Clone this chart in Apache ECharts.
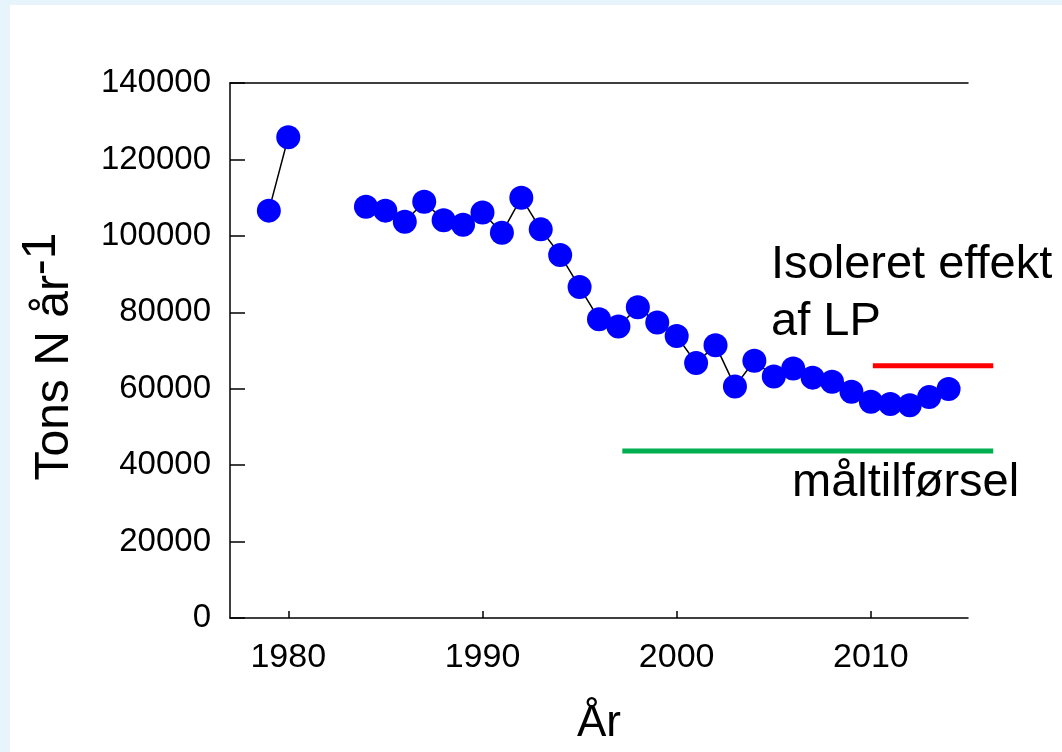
<!DOCTYPE html>
<html>
<head>
<meta charset="utf-8">
<script src="https://cdn.jsdelivr.net/npm/echarts@6/dist/echarts.min.js"></script>
<style>
  html, body { margin: 0; padding: 0; background: #e8f4fc; width: 1062px; height: 752px; overflow: hidden; }
  #chart { position: absolute; left: 10px; top: 5px; width: 1052px; height: 747px; background: #ffffff; }
</style>
</head>
<body>
<div id="chart"></div>
<script>
// ---- Data ----
const years = [1979, 1980, 1981, 1982, 1983, 1984, 1985, 1986, 1987, 1988, 1989, 1990, 1991, 1992, 1993, 1994, 1995, 1996, 1997, 1998, 1999, 2000, 2001, 2002, 2003, 2004, 2005, 2006, 2007, 2008, 2009, 2010, 2011, 2012, 2013, 2014];
const nitrogen = [106600, 125800, null, null, null, 107600, 106600, 103700, 108900, 104100, 102900, 106100, 100800, 110000, 101700, 95000, 86600, 78200, 76300, 81300, 77300, 73800, 66700, 71400, 60600, 67300, 63200, 65300, 62900, 61800, 59200, 56600, 56000, 55700, 57800, 59900];
const lpEffectX = [2010.1, 2016.3];
const lpEffectY = [66000, 66000];
const targetX = [1997.2, 2016.3];
const targetY = [43700, 43700];
const xTicks = [1980, 1990, 2000, 2010];
const yTicks = [0, 20000, 40000, 60000, 80000, 100000, 120000, 140000];
const labelLP = 'Isoleret effekt\naf LP';
const labelTarget = 'måltilførsel';

const FONT = '"Liberation Sans", Arial, Helvetica, sans-serif';

const mainData = years.map((y, i) => [y, nitrogen[i] === null ? null : nitrogen[i]]);
const refLines = [
  { xs: lpEffectX, ys: lpEffectY, color: '#ff0000' },
  { xs: targetX, ys: targetY, color: '#00b050' }
];

function refLineItem(params, api) {
  const ln = refLines[params.dataIndex];
  const p1 = api.coord([ln.xs[0], ln.ys[0]]);
  const p2 = api.coord([ln.xs[1], ln.ys[1]]);
  return {
    type: 'line',
    shape: { x1: p1[0], y1: p1[1], x2: p2[0], y2: p2[1] },
    style: { stroke: ln.color, lineWidth: 5 }
  };
}

const chart = echarts.init(document.getElementById('chart'));
chart.setOption({
  animation: false,
  backgroundColor: '#ffffff',
  grid: { left: 220, top: 78, right: 94, bottom: 134, containLabel: false },
  xAxis: [{
    type: 'value',
    min: 1977, max: 2015,
    splitLine: { show: false },
    axisLine: { show: true, onZero: false, lineStyle: { color: '#000', width: 1.5 } },
    axisTick: { show: true, inside: true, length: 7, customValues: xTicks, lineStyle: { color: '#000', width: 1.5 } },
    axisLabel: { customValues: xTicks, fontSize: 34, color: '#000', fontFamily: FONT, margin: 23, formatter: v => String(v) },
    name: 'År',
    nameLocation: 'middle',
    nameGap: 84,
    nameTextStyle: { fontSize: 44, color: '#000', fontFamily: FONT }
  }, {
    type: 'value',
    position: 'top',
    min: 1977, max: 2015,
    splitLine: { show: false },
    axisLine: { show: true, onZero: false, lineStyle: { color: '#000', width: 1.5 } },
    axisTick: { show: false },
    axisLabel: { show: false }
  }],
  yAxis: {
    type: 'value',
    min: 0, max: 140000, interval: 20000,
    splitLine: { show: false },
    axisLine: { show: true, lineStyle: { color: '#000', width: 1.5 } },
    axisTick: { show: true, inside: true, length: 15, lineStyle: { color: '#000', width: 1.5 } },
    axisLabel: { fontSize: 33, color: '#000', fontFamily: FONT, margin: 19,
      formatter: v => yTicks.includes(v) ? String(v) : '' },
    name: 'Tons N år{s|-1}',
    nameLocation: 'middle',
    nameRotate: 90,
    nameGap: 138,
    nameTextStyle: { fontSize: 48, color: '#000', fontFamily: FONT, padding: [0, 12, 0, 0],
      rich: { s: { fontSize: 48, color: '#000', fontFamily: FONT, padding: [0, 0, 26, 0] } } }
  },
  series: [{
    type: 'line',
    data: mainData,
    connectNulls: false,
    symbol: 'circle',
    symbolSize: 24,
    itemStyle: { color: '#0000ff' },
    lineStyle: { color: '#000', width: 1.5 },
    z: 5
  }, {
    type: 'custom',
    clip: false,
    data: refLines.map((_, i) => i),
    renderItem: refLineItem,
    silent: true,
    z: 3
  }],
  graphic: [{
    type: 'text',
    left: 761, top: 232,
    style: { text: labelLP, fontSize: 47, lineHeight: 57, fill: '#000', fontFamily: FONT }
  }, {
    type: 'text',
    left: 782, top: 455,
    style: { text: labelTarget, fontSize: 47, fill: '#000', fontFamily: FONT }
  }]
});
</script>
</body>
</html>
